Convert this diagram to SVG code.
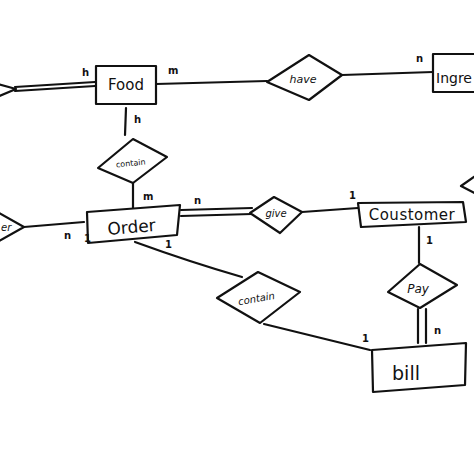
<svg xmlns="http://www.w3.org/2000/svg" width="474" height="474" viewBox="0 0 474 474">
<style>
.s{fill:none;stroke:#111;stroke-width:2.2;stroke-linejoin:round;stroke-linecap:round}
.n{fill:#fff;stroke:#111;stroke-width:2.2;stroke-linejoin:round}
.t{font-family:"DejaVu Sans","Liberation Sans",sans-serif;fill:#111}
.lbl{font-family:"DejaVu Sans",sans-serif;fill:#111;font-size:10px;font-weight:bold}
</style>
<rect width="474" height="474" fill="#fff"/>
<g id="connectors">
<path class="s" d="M15,87 L95,82 M15,91 L95,86"/>
<path class="s" d="M156,84 L267,81"/>
<path class="s" d="M342,75 L433,72"/>
<path class="s" d="M126,108 L125,135"/>
<path class="s" d="M133,183 L133,211"/>
<path class="s" d="M24,227 L84,222"/>
<path class="s" d="M181,210 L252,208 M181,216 L252,214"/>
<path class="s" d="M302,212 L358,208"/>
<path class="s" d="M419,227 L419,263"/>
<path class="s" d="M418,309 L418,343 M426,309 L426,343"/>
<path class="s" d="M135,242 Q190,262 242,277"/>
<path class="s" d="M264,324 L370,350"/>
</g>
<g id="node-left-top">
<polygon class="n" points="-10,82 16,89 -10,100"/>
</g>
<g id="node-food">
<rect class="n" x="96" y="66" width="60" height="38"/>
<text class="t" x="126" y="90" font-size="15" text-anchor="middle">Food</text>
</g>
<g id="node-have">
<polygon class="n" points="267,82 309,55 342,75 309,100"/>
<text class="t" x="303" y="83" font-size="11" text-anchor="middle" font-style="italic">have</text>
</g>
<g id="node-ingredient">
<polygon class="n" points="433,54 480,54 480,92 433,92"/>
<text class="t" x="436" y="83" font-size="14">Ingre</text>
</g>
<g id="node-contain-top">
<polygon class="n" points="133,139 167,157 133,183 98,168"/>
<text class="t" x="131" y="166" font-size="8" text-anchor="middle" transform="rotate(-6 131 166)">contain</text>
</g>
<g id="node-order">
<polygon class="n" points="87,212 180,205 177,235 88,243"/>
<text class="t" x="132" y="233" font-size="17" text-anchor="middle" transform="rotate(-5 132 233)">Order</text>
</g>
<g id="node-left-mid">
<polygon class="n" points="-10,208 24,227 -10,246"/>
<text class="t" x="1" y="231" font-size="10" font-style="italic">er</text>
</g>
<g id="node-give">
<polygon class="n" points="250,213 274,197 302,212 280,233"/>
<text class="t" x="276" y="217" font-size="10" text-anchor="middle" font-style="italic">give</text>
</g>
<g id="node-coustomer">
<polygon class="n" points="358,203 463,202 466,222 361,227"/>
<text class="t" x="412" y="220" font-size="15" text-anchor="middle" letter-spacing="0.5">Coustomer</text>
</g>
<g id="node-right">
<polygon class="n" points="484,170 461,186 484,198"/>
</g>
<g id="node-pay">
<polygon class="n" points="420,264 457,285 420,308 388,292"/>
<text class="t" x="418" y="293" font-size="12" text-anchor="middle" font-style="italic">Pay</text>
</g>
<g id="node-contain-bottom">
<polygon class="n" points="258,272 300,292 260,323 217,298"/>
<text class="t" x="257" y="302" font-size="10" text-anchor="middle" font-style="italic" transform="rotate(-10 257 302)">contain</text>
</g>
<g id="node-bill">
<polygon class="n" points="372,350 466,343 465,385 373,392"/>
<text class="t" x="406" y="380" font-size="19" text-anchor="middle">bill</text>
</g>
<g id="labels">
<text class="lbl" x="82" y="76">h</text>
<text class="lbl" x="168" y="74">m</text>
<text class="lbl" x="416" y="62">n</text>
<text class="lbl" x="134" y="123" font-size="12">h</text>
<text class="lbl" x="143" y="200" font-size="12">m</text>
<text class="lbl" x="194" y="204" font-size="13">n</text>
<text class="lbl" x="64" y="239">n</text>
<text class="lbl" x="84" y="242" font-size="7">1</text>
<text class="lbl" x="165" y="248" font-size="7">1</text>
<text class="lbl" x="349" y="199" font-size="8">1</text>
<text class="lbl" x="426" y="244" font-size="8">1</text>
<text class="lbl" x="434" y="334">n</text>
<text class="lbl" x="362" y="342" font-size="7">1</text>
</g>
</svg>
